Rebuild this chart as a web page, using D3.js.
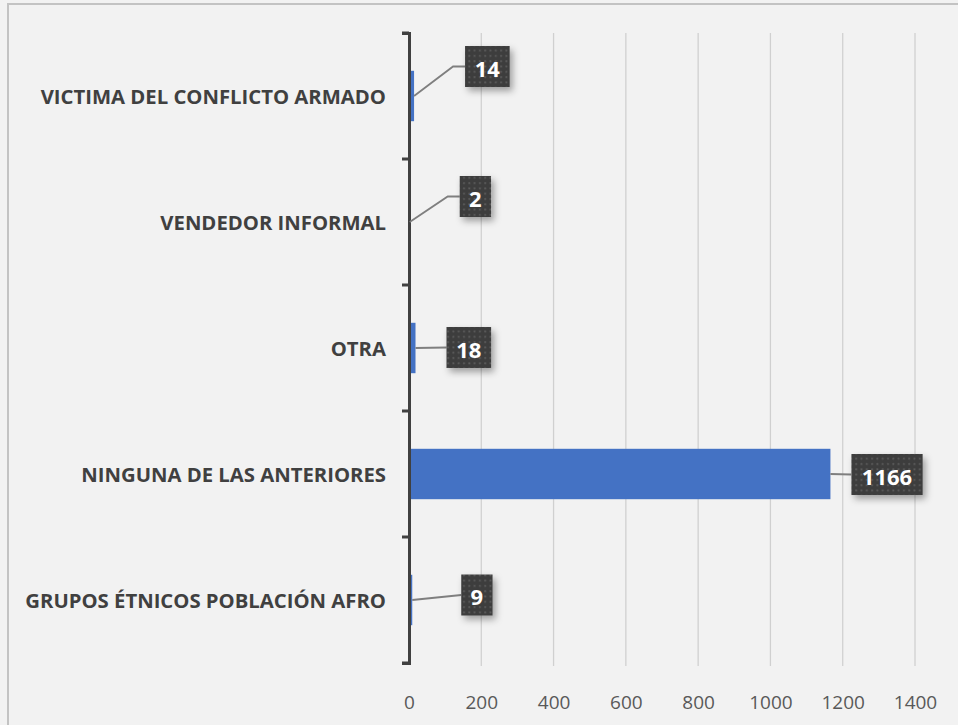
<!DOCTYPE html>
<html><head><meta charset="utf-8">
<script src="https://cdn.jsdelivr.net/npm/d3@7"></script>
<style>
html,body{margin:0;padding:0;background:#f2f2f2;}
svg{display:block;}
</style></head>
<body>
<svg id="chart" width="958" height="725"></svg>
<script>
const categories = ["VICTIMA DEL CONFLICTO ARMADO","VENDEDOR INFORMAL","OTRA","NINGUNA DE LAS ANTERIORES","GRUPOS ÉTNICOS POBLACIÓN AFRO"];
const values = [14, 2, 18, 1166, 9];
const tickValues = [0,200,400,600,800,1000,1200,1400];
// label box offsets relative to the bar end (dx) and band center (dy)
const labelOffsets = [[51,-29.5],[50,-25.5],[31,-0.5],[21,0.5],[49,-5]];

const svg = d3.select("#chart");
const W = 958, H = 725;
svg.append("rect").attr("x",8).attr("y",4).attr("width",W).attr("height",H)
  .attr("fill","#f2f2f2").attr("stroke","#c3c3c3").attr("stroke-width",2);

const defs = svg.append("defs");
const pat = defs.append("pattern").attr("id","dots").attr("patternUnits","userSpaceOnUse")
  .attr("width",5.3).attr("height",5.3);
pat.append("rect").attr("width",6).attr("height",6).attr("fill","#3d3d3d");
pat.append("rect").attr("x",2).attr("y",2).attr("width",1.8).attr("height",1.8).attr("fill","#5c5c5c");
const flt = defs.append("filter").attr("id","shadow").attr("x","-40%").attr("y","-40%").attr("width","190%").attr("height","190%");
flt.append("feDropShadow").attr("dx",3).attr("dy",4).attr("stdDeviation",3.5).attr("flood-color","#000").attr("flood-opacity",0.35);

const x = d3.scaleLinear().domain([0,1400]).range([409,915]);
const y = d3.scaleBand().domain(categories).range([33,663]).paddingInner(0.6).paddingOuter(0.3);
const bandTop = d3.scaleBand().domain(categories).range([33,663]);

// gridlines
svg.append("g").selectAll("line").data(tickValues.filter(d=>d>0)).join("line")
  .attr("x1",d=>x(d)).attr("x2",d=>x(d)).attr("y1",33).attr("y2",666)
  .attr("stroke","#d0d0d0").attr("stroke-width",1.3);

// x tick labels
const xAxis = d3.axisBottom(x).tickValues(tickValues).tickSize(0).tickPadding(0).tickFormat(d3.format("d"));
const gx = svg.append("g").attr("transform","translate(0,0)").call(xAxis);
gx.select(".domain").remove();
gx.selectAll("text").attr("font-family","'Open Sans', sans-serif").attr("font-size",19)
  .attr("fill","#595959").attr("dy",null).attr("y",709);

// bars
svg.append("g").selectAll("rect").data(values).join("rect")
  .attr("x",x(0)).attr("y",(d,i)=>y(categories[i]))
  .attr("width",d=>x(d)-x(0)).attr("height",y.bandwidth())
  .attr("fill","#4472c4");

// y axis
const yAxis = d3.axisLeft(bandTop).tickSize(7).tickSizeOuter(7).tickFormat("");
const gy = svg.append("g").attr("transform","translate(409,0)").call(yAxis);
gy.select(".domain").attr("stroke","#404040").attr("stroke-width",3);
gy.selectAll(".tick line").attr("stroke","#404040").attr("stroke-width",3)
  .attr("transform",d=>"translate(0,"+(-bandTop.bandwidth()/2)+")");
gy.append("line").attr("x1",-7).attr("x2",0).attr("y1",663).attr("y2",663).attr("stroke","#404040").attr("stroke-width",3);

// category labels
svg.append("g").selectAll("text").data(categories).join("text")
  .attr("x",386).attr("y",d=>bandTop(d)+bandTop.bandwidth()/2)
  .attr("text-anchor","end").attr("dominant-baseline","central")
  .attr("font-family","'Open Sans', sans-serif").attr("font-weight","bold").attr("font-size",20.3)
  .attr("fill","#404040").text(d=>d);

// data labels
const lg = svg.append("g");
values.forEach((v,i)=>{
  const cy = y(categories[i]) + y.bandwidth()/2;
  const xe = x(v);
  const lx = xe + labelOffsets[i][0], ly = cy + labelOffsets[i][1];
  const txt = String(v);
  const bw = 18 + txt.length*13.3, bh = 41;
  const pts = Math.abs(labelOffsets[i][1]) < 10 ? [[xe,cy],[lx,ly]] : [[xe,cy],[lx-12,ly],[lx,ly]];
  lg.append("polyline").attr("points", pts.join(" "))
    .attr("fill","none").attr("stroke","#7f7f7f").attr("stroke-width",1.8);
  lg.append("rect").attr("x",lx).attr("y",ly-bh/2).attr("width",bw).attr("height",bh)
    .attr("fill","url(#dots)").attr("filter","url(#shadow)");
  lg.append("text").attr("x",lx+bw/2).attr("y",ly+1).attr("text-anchor","middle")
    .attr("dominant-baseline","central").attr("font-family","'Open Sans', sans-serif")
    .attr("font-weight","bold").attr("font-size",22).attr("fill","#ffffff").text(txt);
});
</script>
</body></html>
